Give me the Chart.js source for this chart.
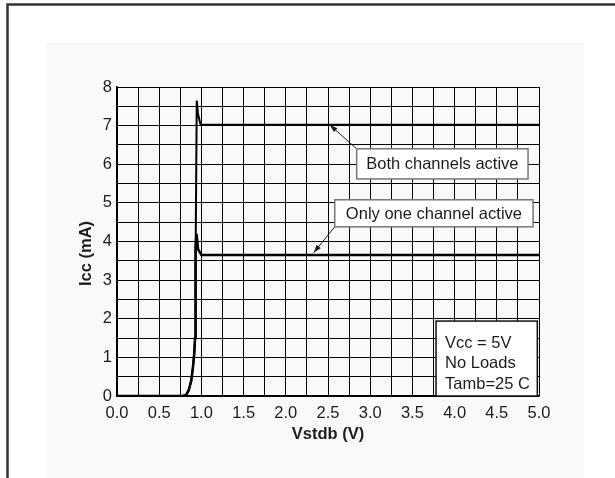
<!DOCTYPE html>
<html>
<head>
<meta charset="utf-8">
<script src="https://cdn.jsdelivr.net/npm/chart.js@4/dist/chart.umd.min.js"></script>
<style>
  html, body { margin: 0; padding: 0; background: #fff; }
  #wrap { width: 615px; height: 478px; }
</style>
</head>
<body>
<div id="wrap"><canvas id="icc" width="615" height="478"></canvas></div>
<script>
// supply current vs standby voltage
const bothV = [0, 0.78, 0.82, 0.85, 0.88, 0.90, 0.915, 0.925, 0.93, 0.935, 0.945, 0.96, 0.99, 1.10, 5.0];
const bothI = [0, 0,    0.03, 0.15, 0.40, 0.75, 1.10,  1.50,  3.00, 4.00,  7.65,  7.30, 7.02, 7.02, 7.02];

const oneV = [0, 0.78, 0.82, 0.85, 0.88, 0.90, 0.915, 0.925, 0.93, 0.943, 0.96, 1.00, 5.0];
const oneI = [0, 0,    0.03, 0.15, 0.40, 0.75, 1.10,  1.50,  3.85, 4.20,  3.80, 3.65, 3.65];

const xTitle = 'Vstdb (V)';
const yTitle = 'Icc (mA)';
const conditions = ['Vcc = 5V', 'No Loads', 'Tamb=25 C'];

const FONT = '"Liberation Sans", Arial, Helvetica, sans-serif';
const INK  = '#1c1c1c';

// callouts, placed in data units
const callouts = [
  { text: 'Both channels active',    x0: 2.84, x1: 4.87, y0: 5.62, y1: 6.40, tipV: 2.52, tipI: 7.02, corner: 'top' },
  { text: 'Only one channel active', x0: 2.58, x1: 4.93, y0: 4.38, y1: 5.08, tipV: 2.33, tipI: 3.71, corner: 'bottom' },
];
const condBox = { x0: 3.78, x1: 4.98, y0: 0, y1: 1.94 };

const toPts = (xs, ys) => xs.map((x, i) => ({ x, y: ys[i] }));

function arrow(ctx, x0, y0, x1, y1) {
  const a = Math.atan2(y1 - y0, x1 - x0);
  ctx.beginPath();
  ctx.moveTo(x0, y0);
  ctx.lineTo(x1, y1);
  ctx.stroke();
  const len = 8, half = 2.6;
  ctx.beginPath();
  ctx.moveTo(x1, y1);
  ctx.lineTo(x1 - len * Math.cos(a) + half * Math.sin(a), y1 - len * Math.sin(a) - half * Math.cos(a));
  ctx.lineTo(x1 - len * Math.cos(a) - half * Math.sin(a), y1 - len * Math.sin(a) + half * Math.cos(a));
  ctx.closePath();
  ctx.fill();
}

const decor = {
  id: 'decor',
  beforeDraw(chart) {
    const ctx = chart.ctx;
    ctx.save();
    ctx.fillStyle = '#fff';
    ctx.fillRect(0, 0, chart.width, chart.height);
    ctx.fillStyle = '#f9f9f7';
    ctx.fillRect(46, 43, 538, 435);
    ctx.strokeStyle = '#333';
    ctx.lineWidth = 2.5;
    ctx.beginPath();
    ctx.moveTo(7.5, chart.height);
    ctx.lineTo(7.5, 4.5);
    ctx.lineTo(chart.width, 4.5);
    ctx.stroke();
    ctx.restore();
  },
  afterDatasetsDraw(chart) {
    const { ctx, chartArea } = chart;
    const sx = chart.scales.x, sy = chart.scales.y;
    ctx.save();

    // callout boxes with leader arrows
    ctx.font = '16.5px ' + FONT;
    ctx.textAlign = 'center';
    ctx.textBaseline = 'middle';
    callouts.forEach(c => {
      const l = sx.getPixelForValue(c.x0), r = sx.getPixelForValue(c.x1);
      const t = sy.getPixelForValue(c.y1), b = sy.getPixelForValue(c.y0);
      ctx.strokeStyle = INK;
      ctx.fillStyle = INK;
      ctx.lineWidth = 1;
      arrow(ctx, l, c.corner === 'top' ? t : b, sx.getPixelForValue(c.tipV), sy.getPixelForValue(c.tipI));
      ctx.fillStyle = '#fff';
      ctx.fillRect(l, t, r - l, b - t);
      ctx.strokeStyle = '#777';
      ctx.lineWidth = 1.5;
      ctx.strokeRect(l, t, r - l, b - t);
      ctx.fillStyle = INK;
      ctx.fillText(c.text, (l + r) / 2, (t + b) / 2 + 1);
    });

    // test conditions box
    {
      const l = sx.getPixelForValue(condBox.x0), r = sx.getPixelForValue(condBox.x1);
      const t = sy.getPixelForValue(condBox.y1), b = sy.getPixelForValue(condBox.y0);
      ctx.fillStyle = '#fff';
      ctx.fillRect(l, t, r - l, b - t);
      ctx.strokeStyle = '#111';
      ctx.lineWidth = 1.5;
      ctx.strokeRect(l, t, r - l, b - t);
      ctx.fillStyle = INK;
      ctx.textAlign = 'left';
      conditions.forEach((s, i) => ctx.fillText(s, l + 9, t + 22 + i * 20.5));
    }

    // axis titles
    ctx.font = 'bold 16.5px ' + FONT;
    ctx.textAlign = 'center';
    ctx.fillText(xTitle, (chartArea.left + chartArea.right) / 2, chartArea.bottom + 38);
    ctx.translate(chartArea.left - 31, (chartArea.top + chartArea.bottom) / 2 + 12);
    ctx.rotate(-Math.PI / 2);
    ctx.fillText(yTitle, 0, 0);
    ctx.restore();
  },
};

new Chart(document.getElementById('icc'), {
  type: 'line',
  data: {
    datasets: [
      { data: toPts(bothV, bothI), borderColor: '#000', borderWidth: 2, pointRadius: 0, tension: 0 },
      { data: toPts(oneV, oneI),   borderColor: '#000', borderWidth: 2.5, pointRadius: 0, tension: 0 },
    ],
  },
  options: {
    responsive: false,
    animation: false,
    devicePixelRatio: 1,
    layout: { padding: { left: 0, top: 87, right: 76, bottom: 0 } },
    plugins: { legend: { display: false }, tooltip: { enabled: false } },
    scales: {
      x: {
        type: 'linear', min: 0, max: 5,
        afterFit: s => { s.height = 82; },
        grid: { color: '#000', lineWidth: 1, drawTicks: false },
        border: { color: '#000', width: 1.5 },
        ticks: {
          stepSize: 0.25, autoSkip: false, maxRotation: 0, padding: 8,
          color: INK, font: { family: FONT, size: 16.5 },
          callback: v => (Math.round(v * 4) % 2 === 0 ? v.toFixed(1) : ''),
        },
      },
      y: {
        type: 'linear', min: 0, max: 8,
        afterFit: s => { s.width = 117; },
        grid: { color: '#000', lineWidth: 1, drawTicks: false },
        border: { color: '#000', width: 1.5 },
        ticks: {
          stepSize: 0.5, autoSkip: false, padding: 5,
          color: INK, font: { family: FONT, size: 16.5 },
          callback: v => (Number.isInteger(v) ? String(v) : ''),
        },
      },
    },
  },
  plugins: [decor],
});
</script>
</body>
</html>
